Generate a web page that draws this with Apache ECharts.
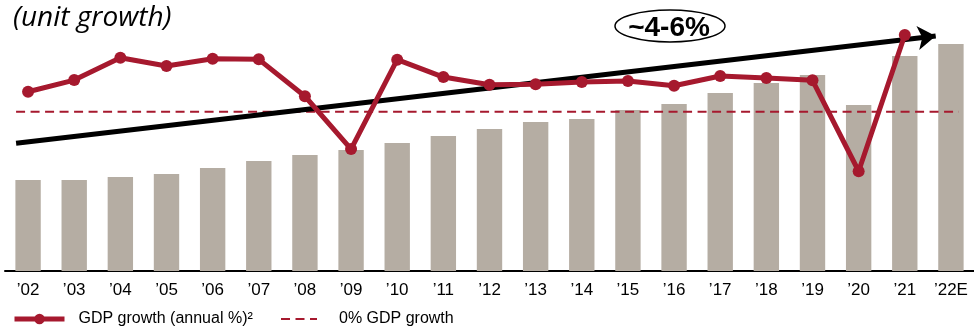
<!DOCTYPE html>
<html>
<head>
<meta charset="utf-8">
<script src="https://cdn.jsdelivr.net/npm/echarts@6/dist/echarts.min.js"></script>
<style>html,body{margin:0;padding:0;background:#fff}#c{width:974px;height:328px}</style>
</head>
<body>
<div id="c"></div>
<script>
// Categories (years)
const categories = ["’02","’03","’04","’05","’06","’07","’08","’09","’10","’11","’12","’13","’14","’15","’16","’17","’18","’19","’20","’21","’22E"];
// Unit volume (relative index)
const unitValues = [91, 91, 94, 97, 103, 110, 116, 121, 128, 135, 142, 149, 152, 161, 167, 178, 188, 196, 166, 215, 227];
// GDP growth (annual %)
const gdpGrowth = [1.33, 2.11, 3.6, 3.05, 3.53, 3.49, 1.03, -2.49, 3.47, 2.31, 1.8, 1.83, 1.98, 2.05, 1.73, 2.38, 2.25, 2.09, -3.97, 5.11, null];
// 0% reference line extent (category index) and value
const zeroLineX = [-0.26, 20.17];
const zeroLineY = [0, 0];
// Trend arrow (category index, % units)
const trendX = [-0.26, 19.67];
const trendY = [-2.11, 5.05];
const trendLabel = "~4-6%";
const titleText = "(unit growth)";

const RED = '#a6192e';
const chart = echarts.init(document.getElementById('c'), null, {renderer: 'canvas'});
chart.setOption({
  animation: false,
  textStyle: {fontFamily: 'Liberation Sans, Arial, sans-serif'},
  grid: {left: 5, top: 0, width: 970, height: 271, containLabel: false},
  xAxis: [
    {type: 'category', data: categories, boundaryGap: true,
     axisLine: {show: true, lineStyle: {color: '#000', width: 2}},
     axisTick: {show: false},
     axisLabel: {color: '#000', fontSize: 17, margin: 11, interval: 0}},
    {type: 'value', min: -0.5, max: 20.5, show: false}
  ],
  yAxis: [
    {type: 'value', min: 0, max: 271, show: false},
    {type: 'value', min: -10.62, max: 7.447, show: false}
  ],
  legend: [
    {left: 12, top: 311, padding: 0, itemWidth: 50, itemHeight: 13,
     data: [{name: 'GDP growth (annual %)²', lineStyle: {width: 5}}],
     textStyle: {fontSize: 16, color: '#000', padding: [0, 0, 0, 9]}},
    {left: 280, top: 311, padding: 0, itemWidth: 36, itemHeight: 13,
     data: [{name: '0% GDP growth', itemStyle: {opacity: 0}}],
     textStyle: {fontSize: 16, color: '#000', padding: [0, 0, 0, 17]}}
  ],
  graphic: [
    {type: 'text', left: 13, top: 4,
     style: {text: titleText, font: 'italic 28px "Open Sans", sans-serif', fill: '#000'}},
    {type: 'ellipse', shape: {cx: 670, cy: 26, rx: 55, ry: 16},
     style: {fill: '#fff', stroke: '#000', lineWidth: 1.5}, z: 10},
    {type: 'text', x: 669, y: 28, z: 11,
     style: {text: trendLabel, font: 'bold 28px "Liberation Sans", Arial, sans-serif', fill: '#000', align: 'center', verticalAlign: 'middle'}}
  ],
  series: [
    {type: 'bar', name: 'Units', data: unitValues, xAxisIndex: 0, yAxisIndex: 0,
     barWidth: '55%', itemStyle: {color: '#b5ada3'}, z: 1},
    {type: 'line', name: '0% GDP growth', xAxisIndex: 1, yAxisIndex: 1,
     data: zeroLineX.map((x, i) => [x, zeroLineY[i]]), symbol: 'none',
     lineStyle: {color: RED, width: 2, type: [9, 5.5]}, itemStyle: {color: RED}, z: 2},
    {type: 'lines', name: 'trend', coordinateSystem: 'cartesian2d', xAxisIndex: 1, yAxisIndex: 1,
     data: [{coords: [[trendX[0], trendY[0]], [trendX[1], trendY[1]]]}],
     symbol: ['none', 'arrow'], symbolSize: [14, 18],
     lineStyle: {color: '#000', width: 5, opacity: 1, curveness: 0}, z: 3},
    {type: 'line', name: 'GDP growth (annual %)²', data: gdpGrowth, xAxisIndex: 0, yAxisIndex: 1,
     symbol: 'circle', symbolSize: 12, showSymbol: true,
     lineStyle: {color: RED, width: 5}, itemStyle: {color: RED}, z: 4}
  ]
});
</script>
</body>
</html>
